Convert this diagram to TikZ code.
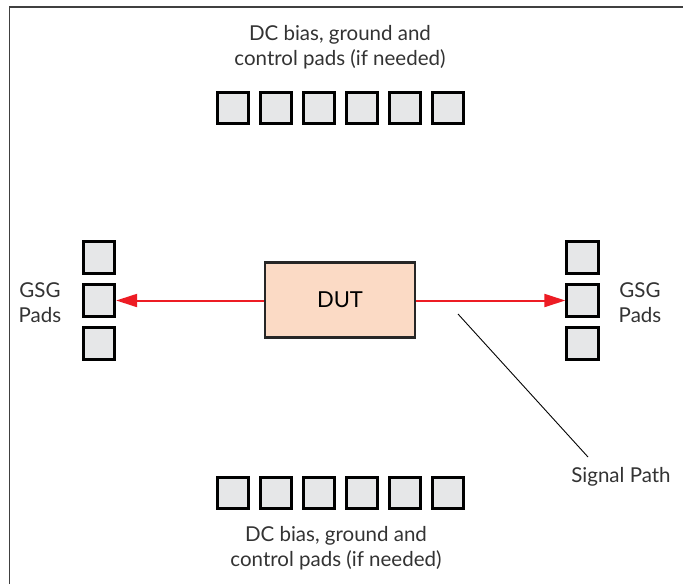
\documentclass[tikz,border=0pt]{standalone}
\usepackage{fontspec}
\setmainfont{Lato}
\usetikzlibrary{arrows.meta}
\definecolor{padfill}{HTML}{E6E7E8}
\definecolor{dutfill}{HTML}{FBDAC5}
\definecolor{sigred}{HTML}{ED1C24}
\definecolor{txt}{HTML}{333333}
\begin{document}
\begin{tikzpicture}[x=1pt,y=-1pt,
  pad/.style={draw=black,fill=padfill,line width=2.8pt,minimum size=31.5pt,inner sep=0pt},
  lbl/.style={text=txt,font=\fontsize{20.5}{25}\selectfont,align=center,inner sep=0pt},
  sig/.style={draw=sigred,line width=2pt,-{Triangle[length=21pt,width=13pt]}}]
\useasboundingbox (0,0) rectangle (683,584);
\fill[white] (0,0) rectangle (683,584);
\draw[line width=1.5pt,draw=black!75] (9.6,584) -- (9.6,7) -- (683,7);
% top and bottom pads
\foreach \i/\x in {1/233,2/276,3/319,4/362,5/405,6/448}{
  \node[pad] (t\i) at (\x,108) {};
  \node[pad] (b\i) at (\x,493) {};
}
% side pads
\foreach \i/\y in {1/257.5,2/300.5,3/343.5}{
  \node[pad] (l\i) at (99,\y) {};
  \node[pad] (r\i) at (582.5,\y) {};
}
\node[draw=black!85,fill=dutfill,line width=2.5pt,minimum width=150pt,minimum height=75pt,
  font=\fontsize{22}{25}\selectfont,text=black] (dut) at (340,300) {DUT};
\draw[sig] (dut.west |- l2.east) -- (l2.east);
\draw[sig] (dut.east |- r2.west) -- (r2.west);
\node[lbl] (toptxt) at (340,47) {DC bias, ground and\\control pads (if needed)};
\node[lbl] (bottxt) at (336,548) {DC bias, ground and\\control pads (if needed)};
\node[lbl] (lgsg) at (40,303) {GSG\\Pads};
\node[lbl] (rgsg) at (640,303) {GSG\\Pads};
\node[lbl] (sp) at (621,477) {Signal Path};
\coordinate (sa) at (458,314);
\coordinate (sb) at (588,457);
\draw[line width=0.9pt] (sa) -- (sb);
\end{tikzpicture}
\end{document}
